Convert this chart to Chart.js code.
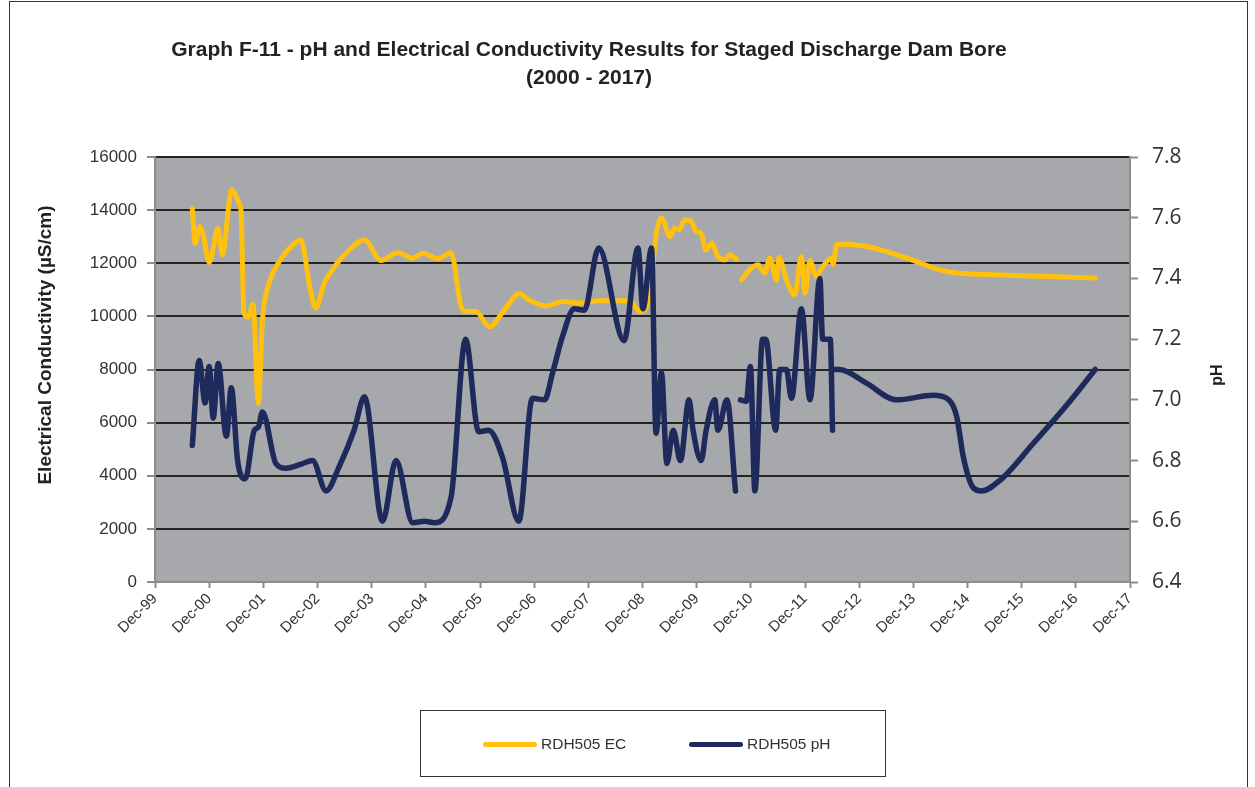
<!DOCTYPE html>
<html>
<head>
<meta charset="utf-8">
<script src="https://cdn.jsdelivr.net/npm/chart.js@4/dist/chart.umd.min.js"></script>
<style>
  html, body { margin: 0; padding: 0; background: #fff; }
  body { width: 1255px; height: 787px; position: relative; overflow: hidden; }
  #frame { position: absolute; left: 9px; top: 1px; width: 1237px; height: 900px; border: 1px solid #333; }
  #title {
    position: absolute; left: 0; top: 35px; width: 1178px; text-align: center;
    font: bold 21px "Liberation Sans", Arial, sans-serif; line-height: 28px; color: #222;
  }
  #wrap { position: absolute; left: 0; top: 0; width: 1255px; height: 787px; }
  #legend {
    position: absolute; left: 420px; top: 710px; width: 464px; height: 65px;
    border: 1.5px solid #333; font: 15.5px "Liberation Sans", Arial, sans-serif; color: #333;
  }
  .item { position: absolute; top: 24px; height: 18px; line-height: 18px; }
  .swatch { position: absolute; top: 7px; left: 0; width: 54px; height: 5px; border-radius: 3px; }
  .item span { position: absolute; left: 58px; white-space: nowrap; }
</style>
</head>
<body>
<div id="frame"></div>
<div id="wrap"><canvas id="chart"></canvas></div>
<div id="title">Graph F-11 - pH and Electrical Conductivity Results for Staged Discharge Dam Bore<br>(2000 - 2017)</div>
<div id="legend">
  <div class="item" style="left:62px"><div class="swatch" style="background:#FFC10E"></div><span>RDH505 EC</span></div>
  <div class="item" style="left:268px"><div class="swatch" style="background:#1F2A5C"></div><span>RDH505 pH</span></div>
</div>
<script>
// tick labels along the date axis (one per December)
const xTickLabels = ['Dec-99', 'Dec-00', 'Dec-01', 'Dec-02', 'Dec-03', 'Dec-04', 'Dec-05', 'Dec-06',
  'Dec-07', 'Dec-08', 'Dec-09', 'Dec-10', 'Dec-11', 'Dec-12', 'Dec-13', 'Dec-14', 'Dec-15', 'Dec-16', 'Dec-17'];

// RDH505 electrical conductivity (uS/cm)
const ecDates = ['2000-08-09', '2000-08-28', '2000-09-28', '2000-10-19', '2000-12-01', '2001-02-01', '2001-02-28',
  '2001-05-01', '2001-06-19', '2001-07-03', '2001-07-22', '2001-08-22', '2001-09-22', '2001-10-28', '2001-11-25',
  '2002-01-10', '2002-03-16', '2002-06-16', '2002-08-10', '2002-10-13', '2002-11-19', '2003-01-16', '2003-03-10',
  '2003-06-10', '2003-10-13', '2004-02-04', '2004-05-22', '2004-09-04', '2004-11-10', '2005-02-19', '2005-05-19',
  '2005-07-25', '2005-08-28', '2005-11-04', '2006-02-04', '2006-05-13', '2006-08-22', '2006-10-28', '2007-02-22',
  '2007-06-10', '2007-10-01', '2008-02-16', '2008-09-04', '2008-11-13', '2009-01-07', '2009-01-22', '2009-03-03',
  '2009-04-07', '2009-06-04', '2009-07-04', '2009-08-07', '2009-09-10', '2009-10-25', '2009-11-28', '2010-01-01',
  '2010-02-01', '2010-03-10', '2010-04-22', '2010-06-10', '2010-07-10', '2010-08-25', '2010-09-10', '2010-09-28',
  '2010-11-22', '2011-01-19', '2011-03-04', '2011-04-07', '2011-05-22', '2011-06-07', '2011-07-28', '2011-09-22',
  '2011-11-07', '2011-12-01', '2012-01-04', '2012-02-16', '2012-03-22', '2012-05-28', '2012-06-07', '2012-07-01',
  '2012-08-13', '2013-01-19', '2013-06-04', '2013-12-22', '2014-05-28', '2014-09-19', '2015-07-07', '2016-06-10',
  '2017-04-10'];
const ecValues = [14050, 12750, 13380, 13130, 12030, 13320, 12320,
  14770, 14270, 13950, 10120, 9970, 10470, 6730, 9870,
  11250, 12060, 12690, 12880, 11000, 10310, 11250, 11750,
  12380, 12880, 12100, 12400, 12190, 12380, 12170, 12400,
  10370, 10180, 10180, 9610, 10240, 10850, 10620, 10390,
  10560, 10500, 10590, 10590, 10180, 10500, 11000, 13130,
  13700, 13010, 13320, 13260, 13640, 13570, 13200, 13130,
  12500, 12760, 12250, 12130, 12320, 12150, null, 11370,
  11750, 11940, 11630, 12190, 11370, 12230, 11370, 10810,
  12250, 10870, 12100, 11500, 11820, 12190, 11940, 12700,
  12720, 12630, 12440, 12060, 11750, 11630, 11560, 11500,
  11440];

// RDH505 pH
const phDates = ['2000-08-09', '2000-09-25', '2000-11-04', '2000-12-01', '2000-12-28', '2001-02-01', '2001-03-25',
  '2001-04-28', '2001-06-10', '2001-08-01', '2001-10-01', '2001-10-28', '2001-11-25', '2002-02-25', '2002-05-01',
  '2002-08-22', '2002-10-28', '2003-01-28', '2003-04-25', '2003-08-04', '2003-10-13', '2004-02-13', '2004-05-13',
  '2004-09-04', '2004-11-22', '2005-01-28', '2005-05-19', '2005-08-25', '2005-11-22', '2006-01-28', '2006-05-01',
  '2006-08-19', '2006-11-19', '2007-02-10', '2007-04-04', '2007-06-10', '2007-08-28', '2007-11-04', '2008-02-10',
  '2008-07-28', '2008-11-01', '2008-12-04', '2009-02-01', '2009-03-01', '2009-04-07', '2009-05-13', '2009-06-25',
  '2009-08-13', '2009-10-10', '2009-11-07', '2010-01-01', '2010-02-04', '2010-04-01', '2010-04-22', '2010-06-22',
  '2010-08-19', '2010-09-05', '2010-09-22', '2010-11-01', '2010-11-28', '2010-12-28', '2011-02-19', '2011-03-10',
  '2011-05-16', '2011-06-13', '2011-07-28', '2011-09-01', '2011-11-07', '2012-01-04', '2012-03-10', '2012-03-28',
  '2012-05-19', '2012-06-04', '2012-06-10', '2012-06-16', '2012-07-19', '2013-01-19', '2013-08-10', '2014-04-13',
  '2014-07-13', '2014-09-19', '2014-11-04', '2015-01-10', '2015-03-04', '2015-07-07', '2016-02-19', '2016-10-01',
  '2017-04-10'];
const phValues = [6.85, 7.13, 6.99, 7.11, 6.94, 7.12, 6.88,
  7.04, 6.80, 6.74, 6.90, 6.91, 6.96, 6.79, 6.775,
  6.79, 6.80, 6.70, 6.78, 6.90, 7.01, 6.60, 6.80,
  6.595, 6.60, 6.595, 6.68, 7.20, 6.895, 6.90, 6.81,
  6.60, 7.005, 7.00, 7.09, 7.21, 7.30, 7.295, 7.50,
  7.195, 7.50, 7.30, 7.50, 6.89, 7.09, 6.79, 6.90,
  6.80, 7.00, 6.90, 6.80, 6.90, 7.00, 6.90, 7.00,
  6.70, null, 7.00, 6.995, 7.11, 6.70, 7.20, 7.20,
  6.90, 7.10, 7.10, 7.005, 7.30, 7.00, 7.40, 7.20,
  7.20, 6.90, null, 7.10, 7.10, 7.055, 7.00, 7.015,
  7.005, 6.945, 6.81, 6.71, 6.70, 6.735, 6.857, 6.983,
  7.10];

// months since 1 Dec 1999
function toMonths(s) {
  const [y, m, d] = s.split('-').map(Number);
  return (y - 1999) * 12 + (m - 12) + (d - 1) / 30;
}

const plotBg = {
  id: 'plotBg',
  beforeDraw(chart) {
    const a = chart.chartArea, ctx = chart.ctx;
    ctx.save();
    ctx.fillStyle = '#A6A8AB';
    ctx.fillRect(a.left, a.top, a.right - a.left, a.bottom - a.top);
    ctx.restore();
  },
  afterDraw(chart) {
    // axis titles, both read bottom to top
    const ctx = chart.ctx;
    ctx.save();
    ctx.fillStyle = '#222';
    ctx.textAlign = 'center';
    ctx.textBaseline = 'middle';
    ctx.font = 'bold 19px "Liberation Sans", Arial, sans-serif';
    ctx.translate(46, 345);
    ctx.rotate(-Math.PI / 2);
    ctx.fillText('Electrical Conductivity (µS/cm)', 0, 0);
    ctx.restore();
    ctx.save();
    ctx.fillStyle = '#222';
    ctx.textAlign = 'center';
    ctx.textBaseline = 'middle';
    ctx.font = 'bold 16px "Liberation Sans", Arial, sans-serif';
    ctx.translate(1218, 375);
    ctx.rotate(-Math.PI / 2);
    ctx.fillText('pH', 0, 0);
    ctx.restore();
  }
};

new Chart(document.getElementById('chart'), {
  type: 'line',
  data: {
    datasets: [
      {
        label: 'RDH505 EC',
        data: ecDates.map((d, i) => ({ x: toMonths(d), y: ecValues[i] })),
        yAxisID: 'y',
        borderColor: '#FFC10E',
        borderWidth: 5,
        pointRadius: 0,
        cubicInterpolationMode: 'monotone',
        borderCapStyle: 'round',
        borderJoinStyle: 'round',
        spanGaps: false,
        order: 1
      },
      {
        label: 'RDH505 pH',
        data: phDates.map((d, i) => ({ x: toMonths(d), y: phValues[i] })),
        yAxisID: 'y1',
        borderColor: '#1F2A5C',
        borderWidth: 5.5,
        pointRadius: 0,
        cubicInterpolationMode: 'monotone',
        borderCapStyle: 'round',
        borderJoinStyle: 'round',
        spanGaps: false,
        order: 0
      }
    ]
  },
  options: {
    responsive: true,
    maintainAspectRatio: false,
    animation: false,
    layout: { padding: { left: 0, right: 0, top: 157, bottom: 125 } },
    plugins: {
      legend: { display: false },
      tooltip: { enabled: false },
      title: { display: false }
    },
    scales: {
      x: {
        type: 'linear',
        min: 0,
        max: 216,
        afterFit: s => { s.height = 80; },
        border: { color: '#8C8C8C', width: 2 },
        grid: { drawOnChartArea: false, tickColor: '#8C8C8C', tickLength: 6, tickWidth: 2 },
        ticks: {
          stepSize: 12,
          autoSkip: false,
          maxRotation: 45,
          minRotation: 45,
          padding: 2,
          color: '#333',
          font: { family: '"Liberation Sans", Arial, sans-serif', size: 15 },
          callback: (v, i) => xTickLabels[i]
        }
      },
      y: {
        position: 'left',
        min: 0,
        max: 16000,
        afterFit: s => { s.width = 155; },
        border: { color: '#8C8C8C', width: 2 },
        grid: {
          color: ctx => ctx.tick && ctx.tick.value === 0 ? 'rgba(0,0,0,0)' : '#232323',
          lineWidth: 2,
          tickColor: '#8C8C8C',
          tickLength: 8,
          tickWidth: 2
        },
        ticks: {
          stepSize: 2000,
          padding: 10,
          color: '#333',
          font: { family: '"Liberation Sans", Arial, sans-serif', size: 17 },
          callback: v => String(v)
        }
      },
      y1: {
        position: 'right',
        min: 6.4,
        max: 7.8,
        afterFit: s => { s.width = 125; },
        border: { color: '#8C8C8C', width: 2 },
        grid: { drawOnChartArea: false, tickColor: '#8C8C8C', tickLength: 8, tickWidth: 2 },
        ticks: {
          stepSize: 0.2,
          padding: 14,
          color: '#333',
          font: { family: '"Open Sans", "Noto Sans", sans-serif', size: 21 },
          callback: v => v.toFixed(1)
        }
      }
    }
  },
  plugins: [plotBg]
});
</script>
</body>
</html>
